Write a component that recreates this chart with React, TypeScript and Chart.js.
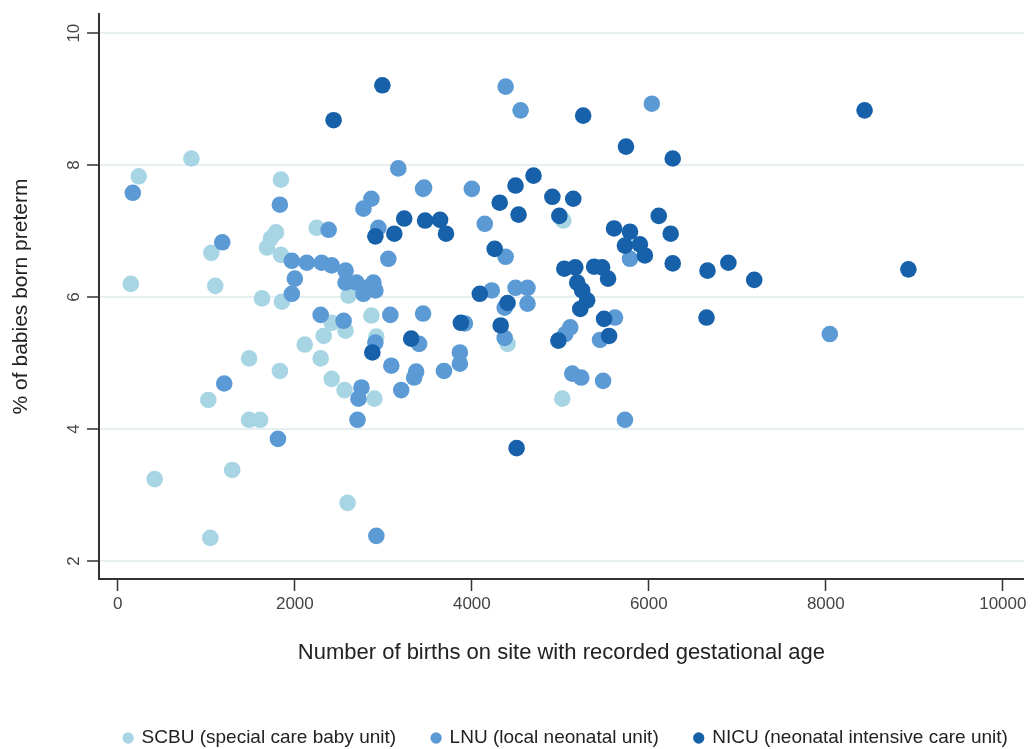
import { useEffect, useRef } from 'react';
import { Chart, registerables } from 'chart.js';

Chart.register(...registerables);

// SCBU (special care baby unit)
const scbuBirths = [831, 236, 1843, 2247, 1787, 1730, 1685, 1843, 1056, 146, 1101, 1629, 1854, 2416, 2326, 2112, 2292, 1483, 1831, 2416, 1022, 1483, 1607, 1292, 416, 1045, 2607, 2573, 2865, 2921, 2562, 2899, 2596, 5034, 4404, 5022];
const scbuPreterm = [8.10, 7.83, 7.78, 7.05, 6.98, 6.89, 6.75, 6.64, 6.67, 6.20, 6.17, 5.98, 5.93, 5.61, 5.41, 5.28, 5.07, 5.07, 4.88, 4.76, 4.44, 4.14, 4.14, 3.38, 3.24, 2.35, 6.02, 5.49, 5.72, 5.40, 4.59, 4.46, 2.88, 7.16, 5.29, 4.46];

// LNU (local neonatal unit)
const lnuBirths = [169, 1180, 1202, 1809, 1831, 2382, 1966, 2135, 2303, 2416, 2000, 1966, 2292, 2551, 2573, 2573, 2697, 2809, 2888, 2910, 2775, 2865, 2775, 2944, 3461, 3056, 3079, 3449, 2910, 3404, 3090, 3371, 3348, 3685, 2753, 2719, 3202, 2708, 2921, 3169, 3449, 4000, 4146, 4382, 4382, 4551, 6034, 4225, 4494, 4629, 4371, 4629, 3921, 4371, 3865, 3865, 5112, 5056, 5618, 5449, 5135, 5236, 5483, 5730, 5787, 8045];
const lnuPreterm = [7.58, 6.83, 4.69, 3.85, 7.40, 7.02, 6.55, 6.52, 6.52, 6.48, 6.28, 6.05, 5.73, 5.64, 6.40, 6.22, 6.22, 6.14, 6.22, 6.10, 6.05, 7.49, 7.34, 7.05, 7.66, 6.58, 5.73, 5.75, 5.31, 5.29, 4.96, 4.87, 4.78, 4.88, 4.63, 4.46, 4.59, 4.14, 2.38, 7.95, 7.64, 7.64, 7.11, 6.61, 9.19, 8.83, 8.93, 6.10, 6.14, 6.14, 5.84, 5.90, 5.60, 5.38, 5.16, 4.99, 5.54, 5.44, 5.69, 5.35, 4.84, 4.78, 4.73, 4.14, 6.58, 5.44];

// NICU (neonatal intensive care unit)
const nicuBirths = [2989, 2438, 2910, 3124, 3236, 3472, 3641, 3708, 2876, 3315, 3876, 4090, 4404, 4326, 4258, 4315, 4494, 4697, 4528, 4910, 5146, 4989, 4506, 5258, 5742, 6270, 8438, 6112, 5607, 5787, 6247, 5730, 5899, 5955, 6270, 6663, 6899, 7191, 8933, 6652, 5045, 5169, 5382, 5472, 5539, 5191, 5247, 5303, 5225, 4978, 5494, 5551];
const nicuPreterm = [9.21, 8.68, 6.92, 6.96, 7.19, 7.16, 7.17, 6.96, 5.16, 5.37, 5.61, 6.05, 5.91, 5.57, 6.73, 7.43, 7.69, 7.84, 7.25, 7.52, 7.49, 7.23, 3.71, 8.75, 8.28, 8.10, 8.83, 7.23, 7.04, 6.99, 6.96, 6.78, 6.80, 6.63, 6.51, 6.40, 6.52, 6.26, 6.42, 5.69, 6.43, 6.45, 6.46, 6.45, 6.28, 6.22, 6.10, 5.95, 5.82, 5.34, 5.67, 5.41];

const xTicks = [0, 2000, 4000, 6000, 8000, 10000];
const yTicks = [2, 4, 6, 8, 10];

const seriesLabels = ['SCBU (special care baby unit)', 'LNU (local neonatal unit)', 'NICU (neonatal intensive care unit)'];
const seriesColors = ['#a7d5e4', '#5b9ad4', '#1661aa'];

const FONT = "'Liberation Sans', Arial, sans-serif";
const LEGEND_FONT = 19;
const LEGEND_PAD = 36;

function pts(xs: number[], ys: number[]) {
  return xs.map((x, i) => ({ x, y: ys[i] }));
}

const legendPlacer = {
  id: 'legendPlacer',
  beforeDraw(chart: any) {
    const l = chart.legend;
    if (!l) return;
    const h = l.height;
    l.top = 738 - LEGEND_PAD - LEGEND_FONT / 2;
    l.bottom = l.top + h;
    l.left += 52;
    l.right += 52;
  },
};

export default function App() {
  const ref = useRef<HTMLCanvasElement | null>(null);
  useEffect(() => {
    if (!ref.current) return;
    const all = [pts(scbuBirths, scbuPreterm), pts(lnuBirths, lnuPreterm), pts(nicuBirths, nicuPreterm)];
    const chart = new Chart(ref.current, {
      type: 'scatter',
      data: {
        datasets: all.map((d, i) => ({
          label: seriesLabels[i],
          data: d,
          backgroundColor: seriesColors[i],
          borderColor: seriesColors[i],
          borderWidth: 0,
          pointRadius: 8.3,
          pointHoverRadius: 8.3,
          order: 3 - i,
        })),
      },
      options: {
        animation: false,
        responsive: false,
        devicePixelRatio: 1,
        layout: { padding: { top: 14, right: 4, left: 0, bottom: 0 } },
        plugins: {
          tooltip: { enabled: false },
          legend: {
            position: 'bottom',
            fullSize: true,
            labels: {
              usePointStyle: true,
              pointStyle: 'circle',
              boxWidth: 8,
              boxHeight: 8,
              padding: LEGEND_PAD,
              color: '#222',
              font: { family: FONT, size: LEGEND_FONT },
              sort: (a: any, b: any) => a.datasetIndex - b.datasetIndex,
            },
          },
        },
        scales: {
          x: {
            type: 'linear',
            min: -213,
            max: 10236,
            afterBuildTicks: (s: any) => { s.ticks = xTicks.map((v) => ({ value: v })); },
            afterFit: (s: any) => { s.height = 105; },
            grid: { drawOnChartArea: false, drawTicks: true, tickLength: 12, tickColor: '#333', tickWidth: 1.5 },
            border: { color: '#333', width: 2 },
            ticks: { color: '#444', font: { family: FONT, size: 17 }, padding: 3, maxRotation: 0, callback: (v: any) => String(v) },
            title: {
              display: true,
              text: 'Number of births on site with recorded gestational age',
              color: '#222',
              font: { family: FONT, size: 22 },
              padding: { top: 0, bottom: 18 },
            },
          },
          y: {
            type: 'linear',
            min: 1.727,
            max: 10.29,
            afterBuildTicks: (s: any) => { s.ticks = yTicks.map((v) => ({ value: v })); },
            afterFit: (s: any) => { s.width = 99; },
            grid: { color: '#e6f0f0', lineWidth: 2, drawTicks: true, tickLength: 12, tickColor: '#333', tickWidth: 1.5 },
            border: { color: '#333', width: 2 },
            ticks: { color: '#444', font: { family: FONT, size: 17 }, padding: 3, minRotation: 90, maxRotation: 90, crossAlign: 'center', callback: (v: any) => String(v) },
            title: {
              display: true,
              text: '% of babies born preterm',
              color: '#222',
              font: { family: FONT, size: 21 },
              padding: { top: 9, bottom: 0 },
            },
          },
        },
      } as any,
      plugins: [legendPlacer],
    });
    return () => chart.destroy();
  }, []);
  return (
    <div style={{ position: 'absolute', left: 0, top: 0, width: 1032, height: 749, background: '#fff' }}>
      <canvas ref={ref} width={1032} height={749} style={{ width: 1032, height: 749, display: 'block' }} />
    </div>
  );
}
